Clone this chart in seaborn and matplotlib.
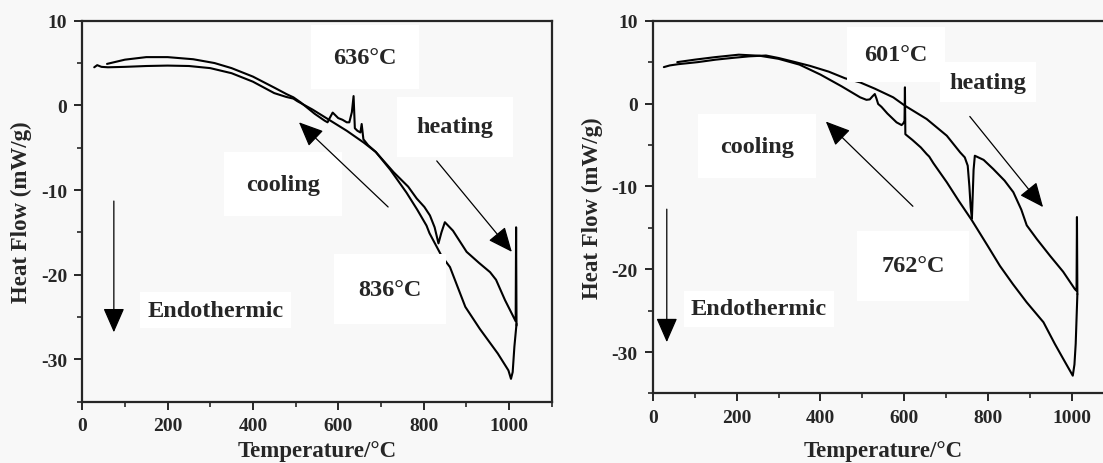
import numpy as np
import pandas as pd
import matplotlib
matplotlib.use("Agg")
import matplotlib.pyplot as plt
import seaborn as sns

# ---------------- data ----------------
# Left panel (sample 1)
heat1_T = [28, 35, 45, 60, 100, 150, 200, 250, 300, 350, 400, 450, 478, 495, 504, 540, 580, 620, 660,
           688, 730, 764, 784, 802, 815, 826, 835, 842, 850, 869, 901, 930, 956, 970, 991, 1016, 1017, 1018]
heat1_HF = [4.5, 4.75, 4.55, 4.5, 4.55, 4.65, 4.7, 4.65, 4.4, 3.8, 2.8, 1.45, 1.0, 0.8, 0.5, -0.5, -1.75, -3.0, -4.4,
            -5.5, -7.9, -9.6, -11.0, -12.0, -13.0, -14.4, -16.3, -15.0, -13.8, -14.8, -17.3, -18.6, -19.7, -20.6, -23.0, -25.5, -14.4, -26.0]

cool1_T = [1018, 1013, 1009, 1005, 999, 974, 932, 898, 862, 842, 814, 807, 785, 760, 722, 688, 670, 659, 655, 652,
           645, 639, 636, 632, 626, 620, 610, 600, 587, 580, 575, 568, 545, 512, 495, 480, 450, 400, 350, 310, 260,
           200, 150, 100, 58]
cool1_HF = [-25.8, -28.5, -31.5, -32.3, -31.3, -29.3, -26.4, -23.8, -19.1, -17.75, -15.1, -14.2, -12.3, -10.3, -7.6, -5.5, -4.7, -4.0, -2.2, -3.2,
            -3.0, -2.7, 1.1, -0.8, -2.0, -2.0, -1.7, -1.5, -0.85, -1.5, -2.0, -1.8, -1.0, 0.35, 0.95, 1.3, 2.1, 3.4, 4.4, 5.0, 5.45,
            5.7, 5.7, 5.4, 4.9]

# Right panel (sample 2)
heat2_T = [26, 40, 60, 107, 150, 188, 230, 270, 300, 340, 375, 420, 459, 495, 530, 574, 602, 654, 702, 734, 745,
           752, 756, 759, 762, 764, 766, 769, 790, 813, 840, 861, 880, 893, 917, 949, 980, 1008, 1012, 1013, 1014]
heat2_HF = [4.4, 4.6, 4.75, 5.0, 5.3, 5.5, 5.7, 5.8, 5.5, 5.0, 4.55, 3.85, 3.05, 2.55, 1.8, 0.75, -0.26, -1.87, -3.88, -5.9, -6.5,
            -7.5, -10.0, -12.5, -13.9, -11.0, -8.0, -6.3, -6.8, -7.9, -9.3, -10.7, -12.8, -14.7, -16.35, -18.4, -20.3, -22.4, -22.6, -13.7, -23.0]

cool2_T = [1014, 1012, 1010, 1007, 1003, 998, 980, 960, 933, 893, 860, 829, 800, 762, 730, 702, 670, 660, 654, 640,
           620, 603, 602, 601, 598, 594, 582, 560, 546, 538, 534, 530, 525, 518, 510, 495, 450, 400, 350, 300, 255,
           205, 148, 100, 58]
cool2_HF = [-23.0, -26.0, -29.0, -31.5, -32.85, -32.4, -30.8, -29.0, -26.4, -24.0, -21.8, -19.6, -17.2, -14.1, -11.7, -9.5, -7.2, -6.4, -6.1, -5.3,
            -4.4, -3.7, 1.96, -2.1, -2.4, -2.6, -2.27, -1.2, -0.4, -0.05, 0.6, 1.15, 0.9, 0.5, 0.45, 0.75, 2.1, 3.5, 4.7, 5.4, 5.77,
            5.9, 5.6, 5.3, 5.0]

x_ticks = [0, 200, 400, 600, 800, 1000]
y_ticks = [10, 0, -10, -20, -30]

labels1 = {"peak": "636°C", "dip": "836°C"}
labels2 = {"peak": "601°C", "dip": "762°C"}

# ---------------- style ----------------
sns.set_style("ticks")
plt.rcParams["font.family"] = ["Liberation Serif", "DejaVu Serif"]
plt.rcParams["font.weight"] = "bold"
plt.rcParams["axes.unicode_minus"] = False

BG = "#f8f8f8"
fig = plt.figure(figsize=(11.03, 4.64), dpi=100, facecolor=BG)
ax1 = fig.add_axes([0.0746, 0.1321, 0.4254, 0.8211])
ax2 = fig.add_axes([0.5920, 0.1498, 0.4174, 0.8034])


def draw_panel(ax, hT, hH, cT, cH, xlabpad, ylabpad):
    ax.set_facecolor(BG)
    dh = pd.DataFrame({"T": hT, "HF": hH})
    dc = pd.DataFrame({"T": cT, "HF": cH})
    sns.lineplot(data=dh, x="T", y="HF", sort=False, estimator=None, color="black", lw=1.5, ax=ax)
    sns.lineplot(data=dc, x="T", y="HF", sort=False, estimator=None, color="black", lw=1.5, ax=ax)
    ax.set_xlim(0, 1100)
    ax.set_ylim(-35, 10)
    ax.set_xticks(x_ticks)
    ax.set_xticks(np.arange(100, 1101, 200), minor=True)
    ax.set_yticks(y_ticks)
    ax.set_yticks(np.arange(-35, 10, 10), minor=True)
    ax.tick_params(which="major", direction="out", length=6, width=1.4, labelsize=14, pad=5)
    ax.tick_params(which="minor", direction="out", length=3.5, width=1.2)
    for lab in ax.get_xticklabels() + ax.get_yticklabels():
        lab.set_fontweight("bold")
    for s in ax.spines.values():
        s.set_linewidth(1.6)
        s.set_visible(True)
    ax.set_xlabel("Temperature/°C", fontsize=16.5, fontweight="bold", labelpad=xlabpad)
    ax.set_ylabel("Heat Flow (mW/g)", fontsize=16.5, fontweight="bold", labelpad=ylabpad)


def txt(ax, x, y, s, size, pad):
    ax.text(x, y, s, fontsize=size, fontweight="bold", ha="center", va="center", zorder=3,
            bbox=dict(boxstyle=f"square,pad={pad}", facecolor="white", edgecolor="none"))


def arrow(ax, x0, y0, x1, y1):
    ax.annotate("", xy=(x1, y1), xytext=(x0, y0), zorder=5,
                arrowprops=dict(arrowstyle="-|>,head_length=0.8,head_width=0.35", mutation_scale=19,
                                lw=0.9, color="black", shrinkA=0, shrinkB=0))


draw_panel(ax1, heat1_T, heat1_HF, cool1_T, cool1_HF, 4, 6)
draw_panel(ax2, heat2_T, heat2_HF, cool2_T, cool2_HF, 10, 6)

# Left panel annotations
txt(ax1, 663, 5.7, labels1["peak"], 17.5, 0.9)
txt(ax1, 874, -2.55, "heating", 17.5, 0.8)
txt(ax1, 470, -9.3, "cooling", 17.5, 0.9)
txt(ax1, 721, -21.7, labels1["dip"], 17.5, 1.0)
txt(ax1, 313, -24.2, "Endothermic", 17.5, 0.3)
arrow(ax1, 74, -11.3, 74, -26.8)
arrow(ax1, 717, -12.0, 508, -2.0)
arrow(ax1, 831, -6.56, 1007, -17.3)

# Right panel annotations
txt(ax2, 800, 2.6, "heating", 17.5, 0.4)
txt(ax2, 581, 5.98, labels2["peak"], 17.5, 0.7)
txt(ax2, 248, -5.13, "cooling", 17.5, 0.9)
txt(ax2, 621, -19.6, labels2["dip"], 17.5, 1.0)
txt(ax2, 253, -24.8, "Endothermic", 17.5, 0.3)
arrow(ax2, 33, -12.75, 33, -28.8)
arrow(ax2, 621, -12.4, 413, -2.17)
arrow(ax2, 757, -1.56, 932, -12.5)

fig.savefig("out.png", dpi=100, facecolor=BG)
